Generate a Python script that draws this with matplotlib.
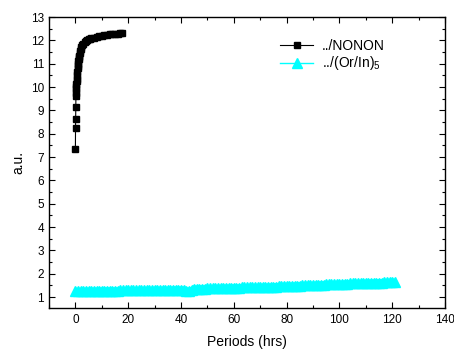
import matplotlib
matplotlib.use("Agg")
import matplotlib.pyplot as plt
from matplotlib.ticker import MultipleLocator

plt.rcParams['font.family'] = ['Liberation Sans', 'DejaVu Sans']
plt.rcParams['mathtext.fontset'] = 'custom'
plt.rcParams['mathtext.rm'] = 'Liberation Sans'
plt.rcParams['mathtext.it'] = 'Liberation Sans:italic'
plt.rcParams['mathtext.bf'] = 'Liberation Sans:bold'
plt.rcParams['mathtext.default'] = 'rm'

# Series 1: ../NONON
nonon_x = [0, 0.05, 0.1, 0.15, 0.2, 0.25, 0.3, 0.35, 0.4, 0.45, 0.5, 0.6, 0.7, 0.8, 0.9, 1.0,
           1.1, 1.2, 1.3, 1.4, 1.6, 1.8, 2.0, 2.3, 2.6, 3.0, 3.5, 4.0, 4.5, 5, 5.5, 6, 7, 8,
           9, 10, 11, 12, 13, 14, 15, 16, 17, 17.5]
nonon_y = [7.35, 8.25, 8.65, 9.15, 9.6, 9.75, 9.9, 10.02, 10.13, 10.24, 10.35, 10.52, 10.66,
           10.8, 10.9, 11.0, 11.1, 11.2, 11.28, 11.35, 11.45, 11.55, 11.62, 11.71, 11.78,
           11.85, 11.92, 11.97, 12.01, 12.04, 12.06, 12.08, 12.12, 12.15, 12.18, 12.2, 12.22,
           12.24, 12.26, 12.27, 12.28, 12.29, 12.31, 12.32]

# Series 2: ../(Or/In)5  (one reading per hour)
orin_x = list(range(0, 122))
orin_y = [1.25, 1.25, 1.25, 1.25, 1.26, 1.26, 1.26, 1.26, 1.26, 1.26,
          1.27, 1.27, 1.27, 1.27, 1.27, 1.27, 1.27, 1.28, 1.28, 1.28,
          1.28, 1.28, 1.28, 1.28, 1.29, 1.29, 1.29, 1.29, 1.29, 1.29,
          1.30, 1.30, 1.30, 1.30, 1.30, 1.30, 1.30, 1.31, 1.31, 1.31,
          1.31, 1.31, 1.27, 1.27, 1.28, 1.35, 1.35, 1.36, 1.36, 1.36,
          1.37, 1.37, 1.37, 1.38, 1.38, 1.38, 1.39, 1.39, 1.39, 1.40,
          1.40, 1.40, 1.40, 1.41, 1.41, 1.41, 1.42, 1.42, 1.42, 1.42,
          1.43, 1.43, 1.43, 1.44, 1.44, 1.45, 1.45, 1.46, 1.46, 1.47,
          1.47, 1.47, 1.48, 1.48, 1.49, 1.49, 1.50, 1.50, 1.51, 1.51,
          1.51, 1.52, 1.52, 1.53, 1.53, 1.54, 1.54, 1.55, 1.55, 1.55,
          1.56, 1.56, 1.57, 1.57, 1.58, 1.58, 1.59, 1.59, 1.59, 1.60,
          1.60, 1.61, 1.61, 1.61, 1.62, 1.62, 1.62, 1.63, 1.63, 1.64,
          1.64, 1.65]

xticks = [0, 20, 40, 60, 80, 100, 120, 140]
yticks = list(range(1, 14))

fig = plt.figure(figsize=(4.54, 3.5), dpi=100)
ax = fig.add_axes([49/454, 1-308/350, (445-49)/454, (308-17)/350])

# dense-ribbon backing for the hourly cyan readings (no legend entry)
ax.plot(orin_x, orin_y, color='cyan', lw=5, solid_capstyle='butt', zorder=2)
ax.plot(orin_x, orin_y, color='cyan', lw=1.0, marker='^', ms=6.5,
        markeredgecolor='cyan', label='../(Or/In)$_5$', zorder=2)
ax.plot(nonon_x, nonon_y, color='black', lw=0.8, marker='s', ms=5,
        markeredgecolor='black', label='../NONON', zorder=3)

ax.set_xlim(-10, 140)
ax.set_ylim(0.53, 13)
ax.set_xticks(xticks)
ax.set_yticks(yticks)
ax.xaxis.set_minor_locator(MultipleLocator(10))
ax.yaxis.set_minor_locator(MultipleLocator(0.5))
ax.tick_params(which='both', direction='in', top=True, right=True,
               labeltop=False, labelright=False, labelsize=8.5, width=0.8)
ax.tick_params(axis='x', which='major', pad=4.5)
ax.tick_params(which='major', length=4)
ax.tick_params(which='minor', length=2.5)
for s in ax.spines.values():
    s.set_linewidth(1.0)

ax.set_xlabel('Periods (hrs)', fontsize=10, labelpad=6)
ax.set_ylabel('a.u.', fontsize=10, labelpad=4)

handles, labels = ax.get_legend_handles_labels()
order = [labels.index('../NONON'), labels.index('../(Or/In)$_5$')]
ax.legend([handles[i] for i in order], [labels[i] for i in order],
          loc='upper left', bbox_to_anchor=(280/454, 1-39/350),
          bbox_transform=fig.transFigure, frameon=False, fontsize=10,
          handlelength=2.4, handletextpad=0.6, labelspacing=0.1,
          borderpad=0, borderaxespad=0)

fig.savefig('out.png', dpi=100)
